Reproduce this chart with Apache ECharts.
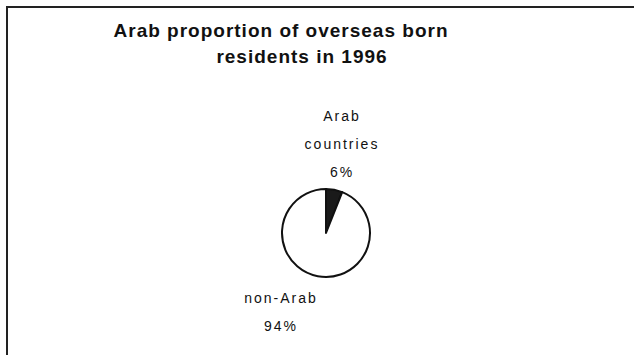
<!DOCTYPE html>
<html>
<head>
<meta charset="utf-8">
<script src="https://cdn.jsdelivr.net/npm/echarts@6/dist/echarts.min.js"></script>
<style>
  html, body { margin: 0; padding: 0; background: #fff; }
  #chart { width: 634px; height: 355px; }
  #chart svg text { letter-spacing: 2px; }
  #chart svg text[style*="bold"] { letter-spacing: 1px; }
</style>
</head>
<body>
<div id="chart"></div>
<script>
// Country-of-birth split for overseas born residents, 1996
const categories = ['Arab\ncountries', 'non-Arab'];
const shares = [6, 94];
const sliceColors = ['#1a1a1a', '#ffffff'];
const titleLines = ['Arab proportion of overseas born', 'residents in 1996'];

const FONT = '"Liberation Sans Narrow", "Liberation Sans", Arial, sans-serif';

const chart = echarts.init(document.getElementById('chart'), null, { renderer: 'svg' });

chart.setOption({
  backgroundColor: '#ffffff',
  animation: false,
  title: [
    {
      text: titleLines[0],
      left: 276, top: 16, textAlign: 'center',
      textStyle: { fontFamily: FONT, fontWeight: 'bold', fontSize: 19, color: '#111' }
    },
    {
      text: titleLines[1],
      left: 297, top: 42, textAlign: 'center',
      textStyle: { fontFamily: FONT, fontWeight: 'bold', fontSize: 19, color: '#111' }
    }
  ],
  graphic: [
    {
      type: 'polyline',
      shape: { points: [[7, 355], [7, 7], [634, 7]] },
      style: { stroke: '#222', lineWidth: 2, fill: null }
    }
  ],
  series: [
    {
      type: 'pie',
      center: [326, 233],
      radius: 44,
      startAngle: 90,
      clockwise: true,
      data: categories.map((name, i) => ({
        name: name,
        value: shares[i],
        itemStyle: { color: sliceColors[i] }
      })),
      itemStyle: { borderColor: '#111', borderWidth: 2 },
      label: {
        show: true,
        position: 'outside',
        formatter: p => p.name + '\n' + p.value + '%',
        fontFamily: FONT,
        fontSize: 14,
        lineHeight: 28,
        color: '#111',
        align: 'center'
      },
      labelLine: { show: false },
      labelLayout: function (params) {
        if (params.dataIndex === 0) {
          return { x: 342, y: 144, align: 'center', verticalAlign: 'middle' };
        }
        return { x: 281, y: 312, align: 'center', verticalAlign: 'middle' };
      },
      emphasis: { disabled: true }
    }
  ]
});
</script>
</body>
</html>
